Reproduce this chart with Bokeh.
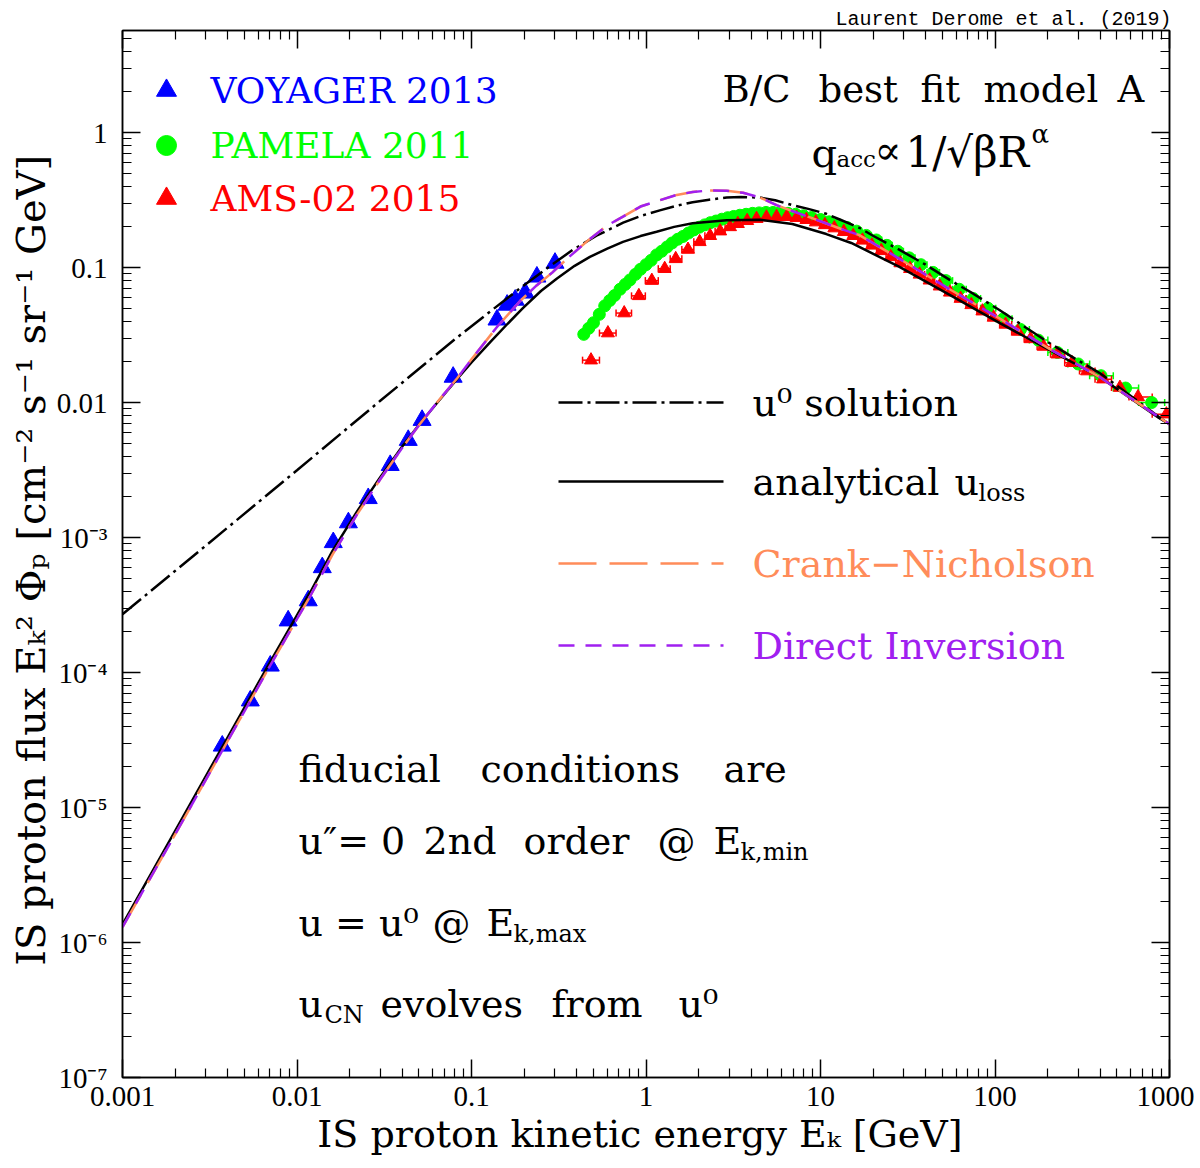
import numpy as np
from bokeh.plotting import figure
from bokeh.models import (Range1d, LogAxis, FixedTicker, CustomJSTickFormatter, Label,
                          ColumnDataSource, Whisker, TeeHead)
from bokeh.embed import file_html
from bokeh.resources import INLINE

# ---------------- data ----------------
voyager_E = [0.00373, 0.0054, 0.00703, 0.0089, 0.0116, 0.01396, 0.01614, 0.0197, 0.0256,
             0.0342, 0.0434, 0.0521, 0.0785, 0.140, 0.160, 0.178, 0.203, 0.237, 0.301]
voyager_F = [2.86e-5, 6.18e-5, 1.12e-4, 2.42e-4, 3.41e-4, 6.0e-4, 9.2e-4, 1.29e-3, 1.95e-3,
             3.43e-3, 5.26e-3, 7.4e-3, 0.01545, 0.041, 0.0528, 0.0575, 0.0649, 0.0853, 0.108]

pamela_E = [0.44, 0.47, 0.50, 0.54, 0.58, 0.62, 0.66, 0.71, 0.76, 0.81, 0.87, 0.93, 1.00, 1.07,
            1.15, 1.23, 1.32, 1.41, 1.52, 1.63, 1.75, 1.88, 2.02, 2.17, 2.34, 2.52, 2.72, 2.94,
            3.18, 3.45, 3.75, 4.08, 4.45, 4.87, 5.35, 5.9, 6.5, 7.2, 8.0, 8.9, 10.0, 11.2, 12.6,
            14.2, 16.1, 18.3, 20.9, 24.0, 27.7, 32.2, 37.6, 44.2, 52.3, 62.4, 75.0, 91.1, 112,
            140, 177, 228, 300, 405, 560, 790]
pamela_F = [0.032, 0.0355, 0.039, 0.045, 0.052, 0.057, 0.062, 0.069, 0.075, 0.081, 0.089, 0.097,
            0.105, 0.113, 0.124, 0.132, 0.142, 0.152, 0.162, 0.170, 0.180, 0.190, 0.199, 0.207,
            0.215, 0.221, 0.228, 0.234, 0.239, 0.244, 0.248, 0.252, 0.254, 0.256, 0.256, 0.255,
            0.252, 0.248, 0.242, 0.235, 0.227, 0.218, 0.208, 0.198, 0.186, 0.173, 0.160, 0.146,
            0.132, 0.118, 0.105, 0.092, 0.080, 0.069, 0.059, 0.050, 0.0418, 0.0348, 0.0290, 0.0235,
            0.0193, 0.0158, 0.0128, 0.0100]

ams_E = [0.484, 0.605, 0.75, 0.91, 1.08, 1.28, 1.48, 1.74, 2.03, 2.33, 2.66, 3.03, 3.36, 3.8,
         4.3, 4.9, 5.6, 6.4, 7.3, 8.3, 9.4, 10.6, 12.0, 13.6, 15.4, 17.4, 19.7, 22.3, 25.3, 28.7,
         32.6, 37.0, 42.2, 48.2, 55.2, 63.5, 73.2, 84.7, 98.3, 115, 135, 160, 190, 228, 276,
         337, 416, 520, 660, 960]
ams_F = [0.0206, 0.0327, 0.046, 0.0617, 0.080, 0.098, 0.116, 0.136, 0.155, 0.172, 0.186, 0.200,
         0.211, 0.222, 0.230, 0.236, 0.238, 0.238, 0.234, 0.226, 0.217, 0.207, 0.196, 0.184,
         0.172, 0.159, 0.146, 0.133, 0.120, 0.108, 0.098, 0.089, 0.0805, 0.0727, 0.0655, 0.0589,
         0.0529, 0.0475, 0.0427, 0.0379, 0.0336, 0.0296, 0.026, 0.0228, 0.0197, 0.0171, 0.0149,
         0.0129, 0.0110, 0.0082]

u0_E = [0.001, 0.003, 0.01, 0.03, 0.08, 0.13, 0.2, 0.28, 0.38, 0.52, 0.74, 0.95, 1.2, 1.5, 1.85,
        2.3, 2.9, 3.5, 4.5, 5.5, 6.9, 8.5, 10.8, 13, 16.7, 20, 28.4, 40, 55, 75, 106, 150, 205,
        290, 396, 600, 870, 1000]
u0_F = [2.7e-4, 8.7e-4, 3.15e-3, 0.0103, 0.0293, 0.048, 0.074, 0.102, 0.135, 0.172, 0.215,
        0.243, 0.265, 0.287, 0.305, 0.318, 0.33, 0.333, 0.33, 0.315, 0.29, 0.272, 0.25, 0.226,
        0.197, 0.172, 0.135, 0.105, 0.081, 0.064, 0.0485, 0.036, 0.0276, 0.021, 0.0166, 0.0112,
        0.0078, 0.0069]

loss_E = [0.001, 0.002, 0.004, 0.007, 0.012, 0.016, 0.022, 0.03, 0.04, 0.05, 0.065, 0.083, 0.1,
          0.128, 0.16, 0.197, 0.25, 0.309, 0.39, 0.477, 0.6, 0.738, 0.93, 1.15, 1.45, 1.85, 2.9,
          4.5, 6.9, 10.8, 15, 28, 55, 106, 205, 396, 870, 1000]
loss_F = [1.36e-6, 6.7e-6, 3.3e-5, 1.19e-4, 4.0e-4, 8.0e-4, 1.55e-3, 2.8e-3, 4.7e-3, 6.85e-3,
          1.03e-2, 1.5e-2, 0.0198, 0.028, 0.038, 0.050, 0.067, 0.083, 0.103, 0.12, 0.138, 0.155,
          0.171, 0.184, 0.2, 0.213, 0.224, 0.226, 0.21, 0.177, 0.152, 0.102, 0.0627, 0.0389,
          0.0245, 0.0155, 0.0077, 0.0069]

cn_E = [0.001, 0.002, 0.004, 0.007, 0.012, 0.016, 0.022, 0.03, 0.04, 0.05, 0.065, 0.083, 0.1,
        0.14, 0.19, 0.237, 0.29, 0.352, 0.477, 0.6, 0.738, 0.93, 1.15, 1.5, 1.85, 2.3, 2.9, 3.6,
        4.5, 5.6, 7.0, 8.8, 11.0, 13.6, 16.7, 28.4, 55, 106, 205, 396, 870, 1000]
cn_F = [1.30e-6, 6.3e-6, 3.1e-5, 1.12e-4, 3.75e-4, 7.5e-4, 1.47e-3, 2.7e-3, 4.6e-3, 6.8e-3,
        1.04e-2, 1.52e-2, 0.0209, 0.0363, 0.0565, 0.074, 0.0917, 0.116, 0.163, 0.205, 0.238,
        0.283, 0.31, 0.345, 0.363, 0.372, 0.37, 0.358, 0.33, 0.29, 0.26, 0.234, 0.21, 0.19,
        0.174, 0.116, 0.069, 0.042, 0.025, 0.0155, 0.0078, 0.0069]

di_E = [0.001, 0.002, 0.004, 0.007, 0.012, 0.016, 0.022, 0.03, 0.04, 0.05, 0.065, 0.083, 0.1,
        0.14, 0.19, 0.237, 0.29, 0.352, 0.477, 0.6, 0.738, 0.93, 1.15, 1.5, 1.85, 2.3, 2.9, 3.6,
        4.5, 5.6, 7.0, 8.8, 11.0, 13.6, 16.7, 28.4, 55, 106, 205, 396, 870, 1000]
di_F = [1.30e-6, 6.3e-6, 3.1e-5, 1.12e-4, 3.75e-4, 7.5e-4, 1.47e-3, 2.7e-3, 4.6e-3, 6.8e-3,
        1.04e-2, 1.52e-2, 0.0209, 0.0363, 0.0565, 0.074, 0.0917, 0.116, 0.163, 0.205, 0.238,
        0.283, 0.31, 0.345, 0.363, 0.372, 0.37, 0.358, 0.33, 0.29, 0.26, 0.234, 0.21, 0.19,
        0.174, 0.116, 0.069, 0.042, 0.025, 0.0155, 0.0078, 0.0069]

x_decades = [-3, -2, -1, 0, 1, 2, 3]
y_decades = [-7, -6, -5, -4, -3, -2, -1, 0]

# ---------------- styling ----------------
XMIN, XMAX = 1e-3, 1e3
YMIN, YMAX = 1e-7, 5.7
BLUE, GREEN, RED = "#0000FF", "#00FF00", "#FF0000"
ORANGE, PURPLE = "#FF8C5A", "#A020F0"
SERIF = "DejaVu Serif"

# reference-pixel -> data helpers for annotation placement
FX0, FX1, FY0, FY1 = 122.0, 1169.0, 1077.0, 30.0
def ax(px):
    return 10 ** (np.log10(XMIN) + (px - FX0) / (FX1 - FX0) * (np.log10(XMAX) - np.log10(XMIN)))
def ay(py):
    return 10 ** (np.log10(YMIN) + (FY0 - py) / (FY0 - FY1) * (np.log10(YMAX) - np.log10(YMIN)))

p = figure(x_axis_type="log", y_axis_type="log",
           x_range=Range1d(XMIN, XMAX), y_range=Range1d(YMIN, YMAX),
           frame_width=1047, frame_height=1047,
           min_border_left=122, min_border_right=25, min_border_top=30, min_border_bottom=84,
           output_backend="svg", toolbar_location=None,
           x_axis_label="IS proton kinetic energy Eₖ  [GeV]",
           y_axis_label="IS proton flux Eₖ² Φₚ  [cm⁻² s⁻¹ sr⁻¹ GeV]")
p.grid.visible = False
p.outline_line_color = "black"
p.outline_line_width = 1.5
p.background_fill_color = "white"
p.border_fill_color = "white"

p.title.text = "Laurent Derome et al. (2019)"
p.title.align = "right"
p.title.text_font = "Liberation Mono"
p.title.text_font_size = "20px"
p.title.text_font_style = "normal"
p.title.text_color = "black"
p.title.standoff = 0
p.title.offset = -2

x_major = [10.0 ** k for k in x_decades]
x_minor = [m * 10.0 ** k for k in x_decades for m in range(2, 10)]
y_major = [10.0 ** k for k in y_decades]
y_minor = [m * 10.0 ** k for k in y_decades for m in range(2, 10)]

xfmt = CustomJSTickFormatter(code="""
const e = Math.round(Math.log10(tick));
if (e >= 0) return '1' + '0'.repeat(e);
return '0.' + '0'.repeat(-e - 1) + '1';
""")
yfmt = CustomJSTickFormatter(code="""
const e = Math.round(Math.log10(tick));
const sup = {'-':'\u207b','0':'\u2070','1':'\u00b9','2':'\u00b2','3':'\u00b3','4':'\u2074','5':'\u2075','6':'\u2076','7':'\u2077','8':'\u2078','9':'\u2079'};
if (e == 0) return '1';
if (e == -1) return '0.1';
if (e == -2) return '0.01';
return '10' + String(e).split('').map(c => sup[c]).join('');
""")
blank = CustomJSTickFormatter(code="return '';")

xb = p.xaxis[0]
yl = p.yaxis[0]
xb.ticker = FixedTicker(ticks=x_major, minor_ticks=x_minor)
yl.ticker = FixedTicker(ticks=y_major, minor_ticks=y_minor)
xb.formatter = xfmt
yl.formatter = yfmt

top = LogAxis(ticker=FixedTicker(ticks=x_major, minor_ticks=x_minor), formatter=blank)
right = LogAxis(ticker=FixedTicker(ticks=y_major, minor_ticks=y_minor), formatter=blank)
p.add_layout(top, "above")
p.add_layout(right, "right")

for a in [xb, yl, top, right]:
    a.major_tick_in = 18
    a.major_tick_out = 0
    a.minor_tick_in = 9
    a.minor_tick_out = 0
    a.axis_line_width = 1.5
    a.major_tick_line_width = 1.5
    a.minor_tick_line_width = 1.2
    a.axis_line_color = "black"
    a.major_tick_line_color = "black"
    a.minor_tick_line_color = "black"
for a in [top, right]:
    a.major_label_standoff = 0
    a.major_label_text_font_size = "1px"

xb.major_label_text_font = "Liberation Serif"
xb.major_label_text_font_size = "29px"
xb.major_label_standoff = 9
xb.axis_label_text_font = SERIF
xb.axis_label_text_font_size = "38px"
xb.axis_label_text_font_style = "normal"
xb.axis_label_standoff = 3
yl.major_label_text_font = "Liberation Serif"
yl.major_label_text_font_size = "29px"
yl.major_label_standoff = 15
yl.axis_label_text_font = SERIF
yl.axis_label_text_font_size = "40px"
yl.axis_label_text_font_style = "normal"
yl.axis_label_standoff = 0
for a in [xb, yl]:
    a.major_label_text_color = "black"
    a.axis_label_text_color = "black"

# ---------------- data points ----------------
def bin_edges(E):
    lg = np.log10(np.array(E, dtype=float))
    mid = (lg[1:] + lg[:-1]) / 2
    lo = np.concatenate([[2 * lg[0] - mid[0]], mid])
    hi = np.concatenate([mid, [2 * lg[-1] - mid[-1]]])
    return 10 ** lo, 10 ** hi

plo, phi = bin_edges(pamela_E)
psrc = ColumnDataSource(dict(x=pamela_E, y=pamela_F, lo=plo, hi=phi))
p.add_layout(Whisker(source=psrc, base="y", lower="lo", upper="hi", dimension="width",
                     line_color=GREEN, line_width=1.5,
                     upper_head=TeeHead(size=7, line_color=GREEN, line_width=1.5),
                     lower_head=TeeHead(size=7, line_color=GREEN, line_width=1.5)))
p.scatter("x", "y", source=psrc, marker="circle", size=12, fill_color=GREEN, line_color=GREEN)

alo, ahi = bin_edges(ams_E)
asrc = ColumnDataSource(dict(x=ams_E, y=ams_F, lo=alo, hi=ahi))
p.add_layout(Whisker(source=asrc, base="y", lower="lo", upper="hi", dimension="width",
                     line_color=RED, line_width=1.5,
                     upper_head=TeeHead(size=7, line_color=RED, line_width=1.5),
                     lower_head=TeeHead(size=7, line_color=RED, line_width=1.5)))
p.scatter("x", "y", source=asrc, marker="triangle", size=13, fill_color=RED, line_color=RED)

p.scatter(voyager_E, voyager_F, marker="triangle", size=18, fill_color=BLUE, line_color=BLUE)

# ---------------- model curves ----------------
p.line(u0_E, u0_F, line_color="black", line_width=2.5, line_dash="24 5 3 5")
p.line(loss_E, loss_F, line_color="black", line_width=2.5)
p.line(cn_E, cn_F, line_color=ORANGE, line_width=2.5, line_dash="38 13")
p.line(di_E, di_F, line_color=PURPLE, line_width=2.5, line_dash="16 11")

# ---------------- annotations ----------------
BASE_SHIFT = 13  # label anchor sits ~13px below the drawn baseline

def lab(px, py, text, size=38, color="black", font=SERIF, align="left"):
    p.add_layout(Label(x=ax(px), y=ay(py - BASE_SHIFT), text=text, text_font=font,
                       text_font_size=f"{size}px", text_color=color,
                       text_align=align, text_baseline="alphabetic"))

# data legend (top left)
p.scatter([ax(166)], [ay(90)], marker="triangle", size=20, fill_color=BLUE, line_color=BLUE)
p.scatter([ax(166)], [ay(145)], marker="circle", size=20, fill_color=GREEN, line_color=GREEN)
p.scatter([ax(166)], [ay(198)], marker="triangle", size=20, fill_color=RED, line_color=RED)
lab(210, 103, "VOYAGER 2013", size=36, color=BLUE)
lab(210, 158, "PAMELA 2011", size=36, color=GREEN)
lab(210, 211, "AMS-02 2015", size=36, color=RED)

# model title (top right)
lab(722, 102, "B/C", size=37)
lab(818, 102, "best", size=37)
lab(920, 102, "fit", size=37)
lab(983, 102, "model", size=37)
lab(1117, 102, "A", size=37)
lab(811, 165, "q", size=40)
lab(836, 171, "acc", size=23)
lab(874, 162, "∝", size=40)
lab(905, 165, "1/√βR", size=42)
lab(1031, 146, "α", size=26)

# curve legend (middle)
for yy, dash, col in [(402, "24 5 3 5", "black"), (481, "solid", "black"),
                      (563, "38 13", ORANGE), (645, "16 11", PURPLE)]:
    p.line([ax(558), ax(723)], [ay(yy), ay(yy)], line_color=col, line_width=2.5, line_dash=dash)
lab(752, 415, "u⁰ solution")
lab(752, 494, "analytical")
lab(954, 494, "u")
lab(978, 505, "loss", size=24)
lab(752, 576, "Crank−Nicholson", color=ORANGE)
lab(752, 658, "Direct Inversion", color=PURPLE)

# fiducial conditions (bottom)
lab(298, 781, "fiducial")
lab(480, 781, "conditions")
lab(723, 781, "are")
lab(298, 853, "u″= 0")
lab(423, 853, "2nd")
lab(523, 853, "order")
lab(657, 853, "@")
lab(713, 853, "E")
lab(740, 864, "k,min", size=24)
lab(298, 935, "u = u⁰")
lab(432, 935, "@")
lab(486, 935, "E")
lab(513, 946, "k,max", size=24)
lab(298, 1016, "u")
lab(324, 1027, "CN", size=24)
lab(380, 1016, "evolves")
lab(551, 1016, "from")
lab(678, 1016, "u⁰")

open("out.html", "w").write(file_html(p, INLINE))
